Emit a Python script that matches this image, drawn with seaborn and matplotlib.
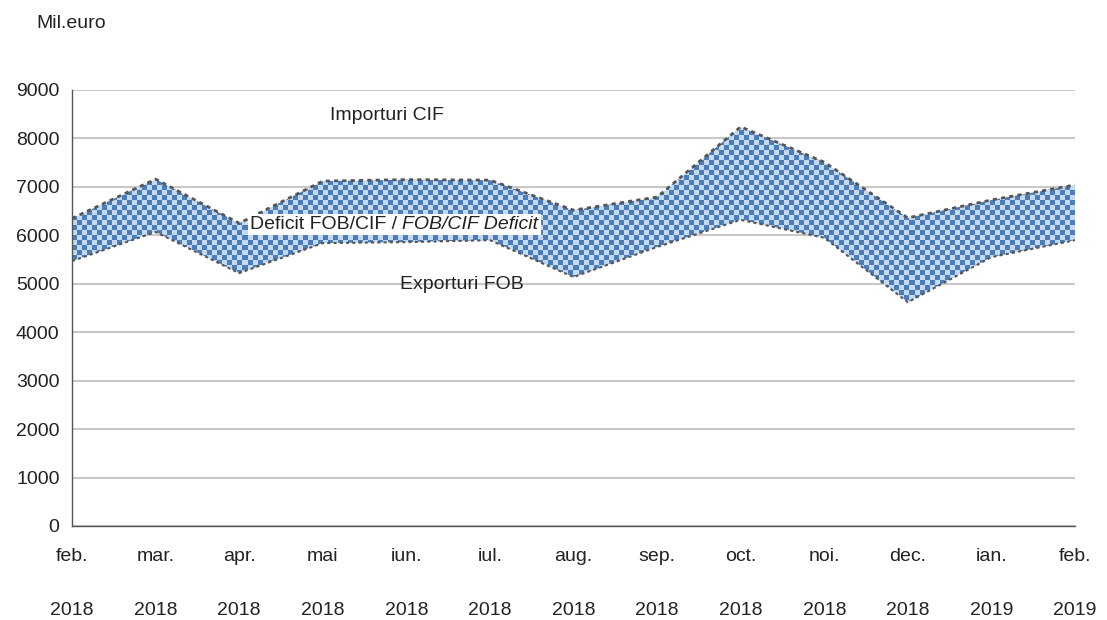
import matplotlib
matplotlib.use("Agg")
import matplotlib.pyplot as plt
import numpy as np
import pandas as pd
import seaborn as sns

months = ["feb.", "mar.", "apr.", "mai", "iun.", "iul.", "aug.",
          "sep.", "oct.", "noi.", "dec.", "ian.", "feb."]
years = ["2018"] * 11 + ["2019", "2019"]
importuri_cif = [6350, 7160, 6250, 7120, 7150, 7140, 6520,
                 6790, 8240, 7510, 6360, 6730, 7040]
exporturi_fob = [5470, 6070, 5220, 5840, 5860, 5900, 5140,
                 5760, 6320, 5950, 4620, 5550, 5900]

df = pd.DataFrame({"idx": range(len(months)),
                   "Importuri CIF": importuri_cif,
                   "Exporturi FOB": exporturi_fob})

sns.set_theme(style="white")
plt.rcParams["font.family"] = ["Liberation Sans", "DejaVu Sans"]
FS = 14

fig = plt.figure(figsize=(11.07, 6.2), dpi=100)
ax = fig.add_axes([72 / 1107, 94 / 620, 1003 / 1107, 436 / 620])

ax.set_xlim(0, 12)
ax.set_ylim(0, 9000)

# checkerboard texture clipped to the deficit band (about 5 px cells)
nx, ny = 200, 87
chk = (np.add.outer(np.arange(ny), np.arange(nx)) % 2).astype(float)
cmap = matplotlib.colors.ListedColormap(["#c6d9f0", "#4a7ebb"])
im = ax.imshow(chk, extent=[0, 12, 0, 9000], aspect="auto",
               interpolation="nearest", cmap=cmap, zorder=2, origin="lower")
band = ax.fill_between(df["idx"], df["Exporturi FOB"], df["Importuri CIF"],
                       facecolor="none", edgecolor="none", zorder=2)
clip = band.get_paths()[0]
im.set_clip_path(clip, transform=ax.transData)

sns.lineplot(data=df, x="idx", y="Importuri CIF", ax=ax, color="#555555",
             linestyle=(0, (1.5, 1.5)), linewidth=2, zorder=3)
sns.lineplot(data=df, x="idx", y="Exporturi FOB", ax=ax, color="#555555",
             linestyle=(0, (1.5, 1.5)), linewidth=1.5, zorder=3)

ax.set_yticks(range(0, 9001, 1000))
ax.yaxis.grid(True, color="#c8c8c8", linewidth=1.5)
ax.set_axisbelow(True)
ax.set_xticks(range(len(months)))
ax.set_xticklabels([f"{m}\n\n{y}" for m, y in zip(months, years)])
for t in ax.get_xticklabels():
    t.set_linespacing(1.77)
ax.tick_params(axis="both", labelsize=FS, colors="#222222", length=5,
               width=1, direction="out", color="#555555")
ax.tick_params(axis="x", pad=11)
ax.tick_params(axis="y", pad=4)
ax.set_xlabel("")
ax.set_ylabel("")
for s in ["top", "right"]:
    ax.spines[s].set_visible(False)
for s in ["left", "bottom"]:
    ax.spines[s].set_color("#555555")
    ax.spines[s].set_linewidth(1)

ax.text(3.77, 8480, "Importuri CIF", fontsize=FS, ha="center", va="center",
        color="#222222", zorder=5)
ax.text(4.67, 4975, "Exporturi FOB", fontsize=FS, ha="center", va="center",
        color="#222222", zorder=5)
t1 = ax.text(2.13, 6230, "Deficit FOB/CIF / ", fontsize=FS, ha="left",
             va="center", color="#222222", zorder=5,
             bbox=dict(facecolor="white", edgecolor="none", pad=1.5))
fig.canvas.draw()
bb = t1.get_window_extent().transformed(ax.transData.inverted())
ax.text(bb.x1, 6230, "FOB/CIF Deficit", fontsize=FS, ha="left", va="center",
        style="italic", color="#222222", zorder=5,
        bbox=dict(facecolor="white", edgecolor="none", pad=1.5))

fig.text(36 / 1107, 1 - 24 / 620, "Mil.euro", fontsize=FS, ha="left",
         va="center", color="#222222")

fig.savefig("out.png", dpi=100)
